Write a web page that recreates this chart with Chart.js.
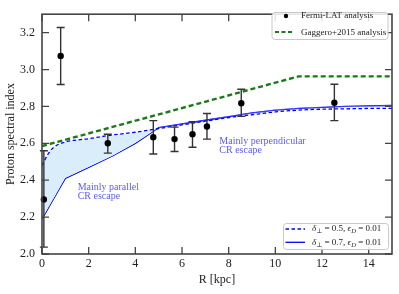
<!DOCTYPE html>
<html><head><meta charset="utf-8">
<script src="https://cdn.jsdelivr.net/npm/chart.js@4"></script>
<style>html,body{margin:0;padding:0;background:#fff}#wrap{width:399px;height:294px;position:relative}</style>
</head><body><div id="wrap"><canvas id="c" width="399" height="294"></canvas></div>
<script>
// ---- data ----
const fermiR     = [0.08, 0.80, 2.82, 4.77, 5.68, 6.45, 7.07, 8.54, 12.53];
const fermiIndex = [2.296, 3.074, 2.600, 2.633, 2.623, 2.649, 2.691, 2.817, 2.820];
const fermiLow   = [2.037, 2.919, 2.547, 2.542, 2.556, 2.579, 2.623, 2.746, 2.723];
const fermiHigh  = [2.560, 3.228, 2.649, 2.723, 2.688, 2.717, 2.762, 2.893, 2.920];

const gaggeroR     = [0, 11, 15];
const gaggeroIndex = [2.585, 2.963, 2.963];

const modelR = [0, 0.25, 0.5, 1, 2, 3, 4, 5, 6, 7, 8, 9, 10, 11, 12, 13, 14, 15];
const perp05 = [2.480, 2.540, 2.578, 2.607, 2.625, 2.645, 2.660, 2.680, 2.700, 2.720, 2.740, 2.755, 2.770, 2.780, 2.785, 2.787, 2.789, 2.790];
const perp07 = [2.190, 2.245, 2.300, 2.410, 2.470, 2.530, 2.600, 2.685, 2.705, 2.725, 2.745, 2.765, 2.780, 2.790, 2.795, 2.800, 2.803, 2.805];

const xTicks = [0, 2, 4, 6, 8, 10, 12, 14];
const yTicks = [2.0, 2.2, 2.4, 2.6, 2.8, 3.0, 3.2];

const labels = {
  fermi: 'Fermi-LAT analysis',
  gaggero: 'Gaggero+2015 analysis',
  perp05: [['δ','i'],['⊥','s'],[' = 0.5, ',''],['ϵ','i'],['D','si'],[' = 0.01','']],
  perp07: [['δ','i'],['⊥','s'],[' = 0.7, ',''],['ϵ','i'],['D','si'],[' = 0.01','']]
};
const annotations = [
  {x: 1.53, y: 2.363, text: 'Mainly parallel'},
  {x: 1.53, y: 2.310, text: 'CR escape'},
  {x: 7.60, y: 2.609, text: 'Mainly perpendicular'},
  {x: 7.60, y: 2.560, text: 'CR escape'}
];

const SERIF = '"Liberation Serif", "DejaVu Serif", serif';
const toXY = (xs, ys) => xs.map((x, i) => ({x, y: ys[i]}));
const BLUE = '#0000ff', GREEN = '#1a7a1a', FILL = 'rgb(217,238,250)';

const decorPlugin = {
  id: 'decor',
  afterDatasetsDraw(chart) {
    const {ctx, chartArea: a, scales: {x, y}} = chart;
    ctx.save();
    // error bars
    ctx.strokeStyle = '#333';
    ctx.lineWidth = 1.4;
    fermiR.forEach((r, i) => {
      const px = x.getPixelForValue(r);
      const lo = y.getPixelForValue(fermiLow[i]);
      const hi = y.getPixelForValue(fermiHigh[i]);
      ctx.beginPath();
      ctx.moveTo(px, lo); ctx.lineTo(px, hi);
      ctx.moveTo(px - 4, lo); ctx.lineTo(px + 4, lo);
      ctx.moveTo(px - 4, hi); ctx.lineTo(px + 4, hi);
      ctx.stroke();
    });
    // points on top
    ctx.fillStyle = '#000';
    fermiR.forEach((r, i) => {
      ctx.beginPath();
      ctx.arc(x.getPixelForValue(r), y.getPixelForValue(fermiIndex[i]), 3.2, 0, Math.PI * 2);
      ctx.fill();
    });
    // annotations
    ctx.fillStyle = '#5a5aff';
    ctx.font = '10px ' + SERIF;
    ctx.textBaseline = 'middle';
    ctx.textAlign = 'left';
    annotations.forEach(an => ctx.fillText(an.text, x.getPixelForValue(an.x), y.getPixelForValue(an.y)));
    // frame
    ctx.strokeStyle = '#444';
    ctx.lineWidth = 1.6;
    ctx.strokeRect(a.left, a.top, a.right - a.left, a.bottom - a.top);
    // inward ticks
    ctx.lineWidth = 1.3;
    const TL = 7;
    xTicks.forEach(t => {
      const px = x.getPixelForValue(t);
      ctx.beginPath();
      ctx.moveTo(px, a.bottom); ctx.lineTo(px, a.bottom - TL);
      ctx.moveTo(px, a.top); ctx.lineTo(px, a.top + TL);
      ctx.stroke();
    });
    yTicks.forEach(t => {
      const py = y.getPixelForValue(t);
      ctx.beginPath();
      ctx.moveTo(a.left, py); ctx.lineTo(a.left + TL, py);
      ctx.moveTo(a.right, py); ctx.lineTo(a.right - TL, py);
      ctx.stroke();
    });
    // legends
    const box = (x0, y0, x1, y1) => {
      const r = 3;
      ctx.beginPath();
      ctx.moveTo(x0 + r, y0); ctx.arcTo(x1, y0, x1, y1, r); ctx.arcTo(x1, y1, x0, y1, r);
      ctx.arcTo(x0, y1, x0, y0, r); ctx.arcTo(x0, y0, x1, y0, r); ctx.closePath();
      ctx.fillStyle = 'rgba(255,255,255,0.85)';
      ctx.fill();
      ctx.strokeStyle = '#c8c8c8';
      ctx.lineWidth = 1;
      ctx.stroke();
    };
    const rich = (segs, x0, yc) => {
      let cx = x0;
      segs.forEach(([t, st]) => {
        const sub = st.includes('s');
        const it = st.includes('i');
        ctx.font = (it ? 'italic ' : '') + (sub ? '6.5px ' : '9px ') + SERIF;
        ctx.fillText(t, cx, sub ? yc + 2.5 : yc);
        cx += ctx.measureText(t).width;
      });
    };
    ctx.textBaseline = 'middle';
    // top-right legend
    box(272, 12.5, 388, 39.5);
    ctx.fillStyle = '#000';
    ctx.beginPath(); ctx.arc(286, 16, 2.2, 0, Math.PI * 2); ctx.fill();
    ctx.strokeStyle = GREEN; ctx.lineWidth = 2.2; ctx.setLineDash([4, 2.5]);
    ctx.beginPath(); ctx.moveTo(275, 32); ctx.lineTo(293, 32); ctx.stroke();
    ctx.setLineDash([]);
    ctx.fillStyle = '#222'; ctx.font = '9px ' + SERIF;
    ctx.fillText(chart.data.datasets[0].label, 301, 16);
    ctx.fillText(chart.data.datasets[1].label, 301, 32.5);
    // bottom-right legend
    box(283.5, 223.5, 388.5, 249.5);
    ctx.strokeStyle = BLUE; ctx.lineWidth = 1.3; ctx.setLineDash([3.5, 2.5]);
    ctx.beginPath(); ctx.moveTo(285.5, 229); ctx.lineTo(305, 229); ctx.stroke();
    ctx.setLineDash([]);
    ctx.beginPath(); ctx.moveTo(285.5, 242.3); ctx.lineTo(305, 242.3); ctx.stroke();
    ctx.fillStyle = '#222';
    rich(labels.perp05, 312, 229);
    rich(labels.perp07, 312, 242.3);
    ctx.restore();
  }
};

new Chart(document.getElementById('c'), {
  type: 'line',
  data: {
    datasets: [
      {label: labels.fermi, data: toXY(fermiR, fermiIndex), showLine: false, pointRadius: 0,
       backgroundColor: '#000', borderColor: '#000'},
      {label: labels.gaggero, data: toXY(gaggeroR, gaggeroIndex), borderColor: GREEN, borderWidth: 2.4,
       borderDash: [5, 3], pointRadius: 0, fill: false, tension: 0},
      {label: 'perp05', data: toXY(modelR, perp05), borderColor: BLUE, borderWidth: 1.3,
       borderDash: [3.5, 2.5], pointRadius: 0, cubicInterpolationMode: 'monotone',
       fill: {target: '+1', above: FILL, below: 'rgba(0,0,0,0)'}},
      {label: 'perp07', data: toXY(modelR, perp07), borderColor: BLUE, borderWidth: 1.3,
       pointRadius: 0, tension: 0, fill: false}
    ]
  },
  options: {
    responsive: false,
    animation: false,
    events: [],
    layout: {padding: {top: 7, right: 7, left: 0, bottom: 0}},
    plugins: {legend: {display: false}, tooltip: {enabled: false}},
    scales: {
      x: {
        type: 'linear', min: 0, max: 15,
        afterBuildTicks: s => { s.ticks = xTicks.map(v => ({value: v})); },
        afterFit: s => { s.height = 40; },
        grid: {display: false, drawTicks: false}, border: {display: false},
        ticks: {padding: 3, color: '#222', font: {family: SERIF, size: 12}, callback: v => String(v), maxRotation: 0},
        title: {display: true, text: 'R [kpc]', color: '#222', font: {family: SERIF, size: 12}, padding: {top: 0, bottom: 7}}
      },
      y: {
        type: 'linear', min: 2.0, max: 3.3,
        afterBuildTicks: s => { s.ticks = yTicks.map(v => ({value: v})); },
        afterFit: s => { s.width = 42; },
        grid: {display: false, drawTicks: false}, border: {display: false},
        ticks: {padding: 7, color: '#222', font: {family: SERIF, size: 12}, callback: v => Number(v).toFixed(1)},
        title: {display: true, text: 'Proton spectral index', color: '#222', font: {family: SERIF, size: 12}, padding: {top: 4, bottom: 0}}
      }
    }
  },
  plugins: [decorPlugin]
});
</script></body></html>
